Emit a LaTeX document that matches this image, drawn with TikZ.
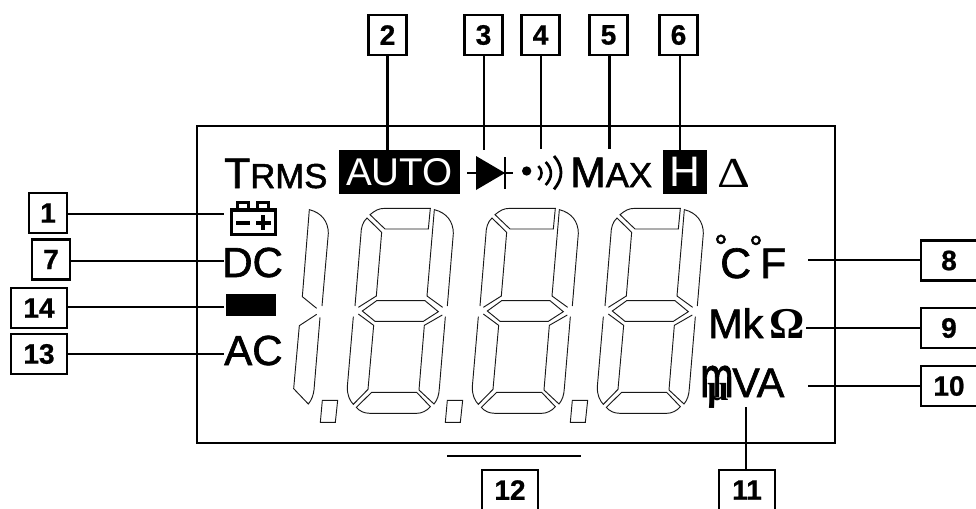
\documentclass[tikz,border=0pt]{standalone}
\usepackage{fontspec}
\setmainfont[FakeBold=1.5]{Liberation Sans}[BoldFont={Liberation Sans Bold},BoldFeatures={FakeBold=0.8}]
\newfontfamily\plainsans{Liberation Sans}
\newfontfamily\serifsym{Liberation Serif}
\newcommand{\pxf}[1]{\fontsize{#1}{#1}\selectfont}
\tikzset{
  numbox/.style={draw=black,line width=1.8pt,fill=white,inner sep=0pt,minimum height=40*0.75pt,font=\bfseries\pxf{21}},
  onebox/.style={numbox,minimum width=38*0.75pt},
  twobox/.style={numbox,minimum width=56*0.75pt},
  conn/.style={line width=1.7pt,black},
  seg/.style={line width=0.7pt,black!90,line join=miter},
  lab/.style={inner sep=0pt,anchor=base west,black},
  solidshape/.style={fill=black,draw=none}
}
\newcommand{\lcddigit}[1]{%
\begin{scope}[shift={(#1,200)},x=0.25pt,y=-0.25pt]
 \draw[seg] (240,44) .. controls (255,32) and (265,25) .. (285,25) -- (421,25) -- (415,87) -- (285,87) -- cycle;
 \draw[seg] (205,322) -- (259,288) -- (275,97) -- (231,54) .. controls (218,65) and (213,85) .. (213,100) -- (195,318);
 \draw[seg] (458,322) -- (411,288) -- (433,29) .. controls (470,38) and (490,65) .. (490,100) -- (472,318);
 \draw[seg] (217,333) -- (260,302) -- (405,302) -- (445,335) -- (400,364) -- (255,364) -- cycle;
 \draw[seg] (190,350) -- (172,560) .. controls (171,585) and (180,603) .. (190,613) -- (234,568) -- (251,376) -- (205,342);
 \draw[seg] (457,345) -- (403,376) -- (387,570) -- (432,612) .. controls (442,600) and (447,585) .. (448,565) -- (466,350);
 \draw[seg] (199,622) -- (245,577) -- (380,577) -- (421,620) .. controls (410,633) and (395,640) .. (380,640) -- (240,640) .. controls (222,640) and (208,633) .. (199,622) -- cycle;
\end{scope}}
\newcommand{\lcddot}[1]{%
\begin{scope}[shift={(#1,200)},x=0.25pt,y=-0.25pt]
 \draw[seg] (97,601) -- (143,601) -- (136,667) -- (91,667) -- cycle;
\end{scope}}
\begin{document}
\begin{tikzpicture}[x=0.75pt,y=-0.75pt]
\useasboundingbox (0,0) rectangle (976,508);
\fill[white] (0,0) rectangle (976,508);
% LCD frame
\node[draw=black,line width=1.7pt,inner sep=0pt,minimum width=638*0.75pt,minimum height=317*0.75pt] (frame) at (515.75,284.75) {};
% digits
\begin{scope}[shift={(290,200)},x=0.25pt,y=-0.25pt]
 \draw[seg] (80,325) -- (37,290) -- (58,29) .. controls (95,38) and (115,65) .. (115,100) -- (96,318);
 \draw[seg] (80,343) -- (28,377) -- (11,566) -- (55,612) .. controls (65,600) and (70,585) .. (72,570) -- (90,352);
\end{scope}
\lcddigit{290}\lcddigit{415}\lcddigit{540}
\lcddot{290}\lcddot{415}\lcddot{540}
% number boxes
\node[onebox] (n1) at (48,213) {1};
\node[onebox] (n7) at (51,259.5) {7};
\node[twobox] (n14) at (39,308) {14};
\node[twobox] (n13) at (39,354) {13};
\node[onebox] (n2) at (387.5,35) {2};
\node[onebox] (n3) at (483.5,35) {3};
\node[onebox] (n4) at (540.5,35) {4};
\node[onebox] (n5) at (608.5,35) {5};
\node[onebox] (n6) at (678.5,35) {6};
\node[twobox] (n8) at (949,260.5) {8};
\node[twobox] (n9) at (949,328) {9};
\node[twobox] (n10) at (949,386) {10};
\node[twobox] (n12) at (510,490) {12};
\node[twobox] (n11) at (747,490) {11};
% TRMS
\node[lab] (trms) at (224,188) {\pxf{32}T\pxf{26}RMS};
% AUTO
\node[solidshape,inner sep=0pt,minimum width=121*0.75pt,minimum height=44*0.75pt,text=white,font=\plainsans\pxf{29}] (auto) at (399.5,172) {AUTO};
% diode
\coordinate (d3) at (484,150);
\fill (476,156) -- (476,190) -- (505,173) -- cycle;
\draw[line width=1.5pt] (505,157) -- (505,189);
\draw[line width=1.5pt] (467,173) -- (513,173);
% beeper
\coordinate (d4) at (541,149);
\begin{scope}[shift={(450,130)},x=0.25pt,y=-0.25pt]
 \fill (230,123) circle[radius=14];
 \draw[line width=1.9pt] (265,108) .. controls (278,120) and (278,138) .. (265,150);
 \draw[line width=2pt] (287,96) .. controls (308,118) and (308,142) .. (287,165);
 \draw[line width=2.1pt] (312,78) .. controls (340,110) and (340,145) .. (312,178);
\end{scope}
% MAX
\coordinate (d5) at (609.5,149);
\node[lab] (max) at (570,187) {\pxf{32}M\pxf{26}AX};
% H
\node[solidshape,inner sep=0pt,minimum width=44*0.75pt,minimum height=44*0.75pt,text=white,font=\plainsans\pxf{32}] (hold) at (685,172) {H};
\coordinate (d6) at (680,150);
% Delta
\node[lab] (delta) at (717,187) {\scalebox{1.2}[1]{\serifsym\pxf{32}Δ}};
% battery
\coordinate (e1) at (224,214);
\begin{scope}[shift={(190,120)},x=0.25pt,y=-0.25pt]
 \draw[line width=2.4pt] (124,270) rectangle (256,344);
 \draw[line width=2.2pt] (143,270) -- (143,248) -- (175,248) -- (175,270);
 \draw[line width=2.2pt] (202,270) -- (202,248) -- (236,248) -- (236,270);
 \fill (138,302) rectangle (180,314);
 \fill (198,302) rectangle (242,314);
 \fill (214,286) rectangle (226,330);
\end{scope}
% DC, block, AC
\coordinate (e7) at (224,261);
\node[lab] (dc) at (222,277) {\pxf{31.5}DC};
\node[solidshape,inner sep=0pt,minimum width=50*0.75pt,minimum height=22*0.75pt] (block) at (251,305) {};
\coordinate (e14) at (224,307);
\coordinate (e13) at (224,354);
\node[lab] (ac) at (224,365) {\pxf{31.5}AC};
% C F
\node[lab] at (714,258) {\pxf{25}°};
\node[lab] at (749,259) {\pxf{25}°};
\node[lab] (cc) at (720,278) {\pxf{32}C};
\node[lab] (ff) at (760,278) {\pxf{32}F};
\coordinate (e8) at (808,260);
% Mk Ohm
\node[lab] (mk) at (708,338) {\pxf{31}Mk};
\node[lab] (ohm) at (769,338) {\serifsym\bfseries\pxf{33}Ω};
\coordinate (e9) at (806,328);
% mVA
\node[lab] (mm) at (700,397) {\scalebox{1}[1.45]{\pxf{30}m}};
\node[lab] (mu) at (707,400) {\serifsym\bfseries\pxf{28}µ};
\node[lab] (va) at (732,397) {\pxf{31}VA};
\coordinate (e10) at (808,386);
\coordinate (e11) at (746,407);
% line above box 12
\coordinate (l12a) at (447,456);
\coordinate (l12b) at (581,456);
% connectors
\draw[conn] (n1.east |- e1) -- (e1);
\draw[conn] (n7.east |- e7) -- (e7);
\draw[conn] (n14.east |- e14) -- (e14);
\draw[conn] (n13.east |- e13) -- (e13);
\draw[conn] (n2.south) -- (n2.south |- auto.north);
\draw[conn] (d3 |- n3.south) -- (d3);
\draw[conn] (d4 |- n4.south) -- (d4);
\draw[conn] (d5 |- n5.south) -- (d5);
\draw[conn] (d6 |- n6.south) -- (d6);
\draw[conn] (n8.west |- e8) -- (e8);
\draw[conn] (n9.west |- e9) -- (e9);
\draw[conn] (n10.west |- e10) -- (e10);
\draw[conn] (e11 |- n11.north) -- (e11);
\draw[conn] (l12a) -- (l12b);
\end{tikzpicture}
\end{document}
